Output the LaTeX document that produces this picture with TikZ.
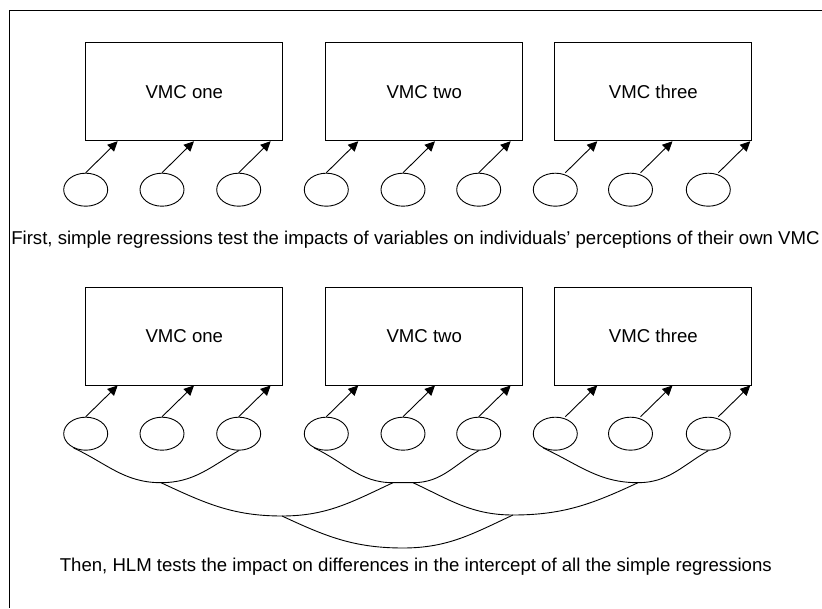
\documentclass[tikz,border=0pt]{standalone}
\usepackage{fontspec}
\setmainfont{Liberation Sans}
\usepackage{tikz}
\usetikzlibrary{%
	arrows.meta,%
	calc,%
	shapes.geometric
}

\begin{document}
\begin{tikzpicture}[x=1pt,y=1pt,line width=0.9pt,
		font=\fontsize{18.6}{22}\selectfont,
		>={Triangle[length=10pt,width=9.5pt]},
		vmc/.style={draw, minimum width=197pt, minimum height=98pt, inner sep=0pt},
		var/.style={draw, ellipse, minimum width=44pt, minimum height=33pt, inner sep=0pt}]
		\useasboundingbox (0,0) rectangle (822,608);
		
		% Frame
		\draw (822,598) -- (9,598) -- (9,0);
		
		% Nodes
		\foreach \r/\y in {A/516.2, B/272} {
			\node[vmc] (vmc\r1) at (184.3,\y) {VMC one};
			\node[vmc] (vmc\r2) at (424.3,\y) {VMC two};
			\node[vmc] (vmc\r3) at (653.3,\y) {VMC three};
		}
		\foreach \i/\x in {1/85.7, 2/162, 3/238.7, 4/326.3, 5/403, 6/478.7, 7/555.3, 8/630.5, 9/708.3} {
			\node[var] (varA\i) at (\x,418.3) {};
			\node[var] (varB\i) at (\x,174.3) {};
		}
		\node[anchor=base] (first) at (415.5,363) {First, simple regressions test the impacts of variables on individuals’ perceptions of their own VMC};
		\node[anchor=base] (then) at (415.8,36.3) {Then, HLM tests the impact on differences in the intercept of all the simple regressions};
		
		% Arrows
		\foreach \r in {A, B} {
			\foreach \i/\b/\s in {1/1/0, 2/1/0, 3/1/0, 4/2/0, 5/2/0, 6/2/0, 7/3/10, 8/3/10, 9/3/10} {
				\draw[->] ([xshift=\s pt]var\r\i.north) -- ([xshift=\s pt+32pt]var\r\i.north |- vmc\r\b.south);
			}
		}
		
		% Curves below
		\coordinate (uone) at (161,125.3);
		\coordinate (utwoa) at (393,125.3);
		\coordinate (utwob) at (413,125.3);
		\coordinate (uthree) at (638,125.3);
		\coordinate (vone) at (282,92);
		\coordinate (vtwo) at (513,93);
		\coordinate (wone) at (403,60);
		\draw (varB1.-130) to[out=-25,in=180] (uone) to[out=0,in=-150] (varB3.south);
		\draw (varB4.-130) to[out=-25,in=180] (utwoa) -- (utwob) to[out=0,in=-150] (varB6.south);
		\draw (varB7.-130) to[out=-25,in=180] (uthree) to[out=0,in=-150] (varB9.south);
		\draw (uone) to[out=-25,in=180] (vone) to[out=0,in=-155] (utwoa);
		\draw (utwob) to[out=-25,in=180] (vtwo) to[out=0,in=-155] (uthree);
		\draw (vone) to[out=-25,in=180] (wone) to[out=0,in=-155] (vtwo);
	\end{tikzpicture}
\end{document}
